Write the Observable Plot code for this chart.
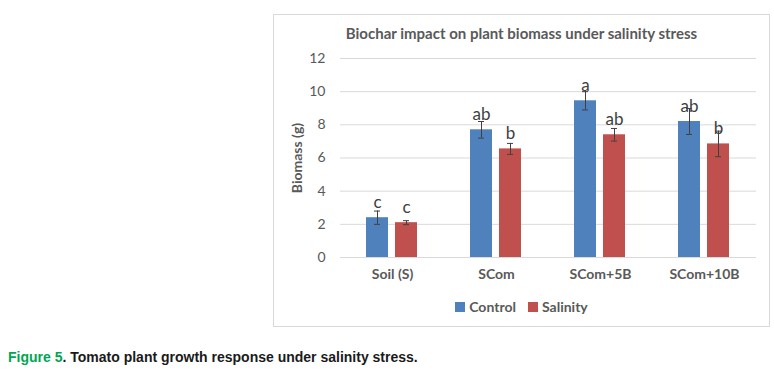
<!DOCTYPE html>
<html>
<head>
<meta charset="utf-8">
<script src="https://cdn.jsdelivr.net/npm/d3@7"></script>
<script src="https://cdn.jsdelivr.net/npm/@observablehq/plot@0.6"></script>
<style>
  html, body { margin: 0; padding: 0; background: #fff; }
  #page { position: relative; width: 774px; height: 383px; overflow: hidden; }
  #box { position: absolute; left: 273px; top: 14px; width: 497px; height: 313px; box-sizing: border-box; border: 1px solid #d9d9d9; }
  #title { position: absolute; left: 273px; width: 497px; top: 24px; text-align: center; font: bold 15px Lato, sans-serif; color: #595959; }
  #chart { position: absolute; left: 273px; top: 45px; }
  #legend { position: absolute; left: 273px; width: 497px; top: 298px; display: flex; justify-content: center; align-items: center; font: bold 14px Lato, sans-serif; color: #595959; }
  .sw { display: inline-block; width: 10px; height: 10px; margin-right: 4px; }
  .item { display: flex; align-items: center; margin: 0 6px; }
  #caption { position: absolute; left: 8px; top: 349px; font: bold 14px "Liberation Sans", Arial, sans-serif; color: #1a1a1a; }
  #caption .fig { color: #00a651; }
</style>
</head>
<body>
<div id="page">
  <div id="box"></div>
  <div id="title">Biochar impact on plant biomass under salinity stress</div>
  <div id="chart"></div>
  <div id="legend"></div>
  <div id="caption"><span class="fig">Figure 5</span>. Tomato plant growth response under salinity stress.</div>
</div>
<script>
const categories = ["Soil (S)", "SCom", "SCom+5B", "SCom+10B"];
const series = ["Control", "Salinity"];
const controlMean = [2.4, 7.7, 9.45, 8.2];
const controlErr = [0.4, 0.5, 0.55, 0.78];
const salinityMean = [2.1, 6.55, 7.4, 6.85];
const salinityErr = [0.12, 0.33, 0.38, 0.77];
const controlLetters = ["c", "ab", "a", "ab"];
const salinityLetters = ["c", "b", "ab", "b"];
const yTicks = [0, 2, 4, 6, 8, 10, 12];
const colors = ["#4f81bd", "#c0504d"];

const rows = [];
categories.forEach((c, i) => {
  rows.push({cat: c, series: "Control", mean: controlMean[i], err: controlErr[i], letter: controlLetters[i]});
  rows.push({cat: c, series: "Salinity", mean: salinityMean[i], err: salinityErr[i], letter: salinityLetters[i]});
});

const plot = Plot.plot({
  width: 497,
  height: 245,
  marginTop: 13,
  marginBottom: 33,
  marginLeft: 65,
  marginRight: 13,
  style: {fontFamily: "Lato, sans-serif", color: "#595959", background: "transparent", overflow: "visible"},
  fx: {domain: categories, padding: 0, label: null},
  x: {domain: series, paddingInner: 0.233, paddingOuter: 0.863, axis: null},
  y: {domain: [0, 12], label: null},
  color: {domain: series, range: colors},
  marks: [
    Plot.gridY(yTicks, {stroke: "#d9d9d9", strokeOpacity: 1}),
    Plot.axisY(yTicks, {tickSize: 0, tickPadding: 15, fontSize: 14, label: "Biomass (g)", labelAnchor: "center", labelOffset: 48, labelArrow: "none", fontWeight: "normal"}),
    Plot.axisFx({anchor: "bottom", tickSize: 0, tickPadding: 12, fontSize: 14, fontWeight: "bold", label: null}),
    Plot.barY(rows, {fx: "cat", x: "series", y: "mean", fill: "series"}),
    Plot.ruleX(rows, {fx: "cat", x: "series", y1: d => d.mean - d.err, y2: d => d.mean + d.err, stroke: "#404040", strokeWidth: 1}),
    Plot.tickY(rows, {fx: "cat", x: "series", y: d => d.mean + d.err, stroke: "#404040", insetLeft: 8, insetRight: 8}),
    Plot.tickY(rows, {fx: "cat", x: "series", y: d => d.mean - d.err, stroke: "#404040", insetLeft: 8, insetRight: 8}),
    Plot.text(rows, {fx: "cat", x: "series", y: "mean", text: "letter", dy: -15, fontSize: 17, fill: "#404040"})
  ]
});
document.getElementById("chart").appendChild(plot);

// make the y-axis title bold and slightly larger
d3.select(plot).selectAll("text").filter(function() { return this.textContent === "Biomass (g)"; })
  .style("font-weight", "bold").style("font-size", "14px");

const legend = document.getElementById("legend");
series.forEach((s, i) => {
  const item = document.createElement("span");
  item.className = "item";
  const sw = document.createElement("span");
  sw.className = "sw";
  sw.style.background = colors[i];
  item.appendChild(sw);
  item.appendChild(document.createTextNode(s));
  legend.appendChild(item);
});
</script>
</body>
</html>
